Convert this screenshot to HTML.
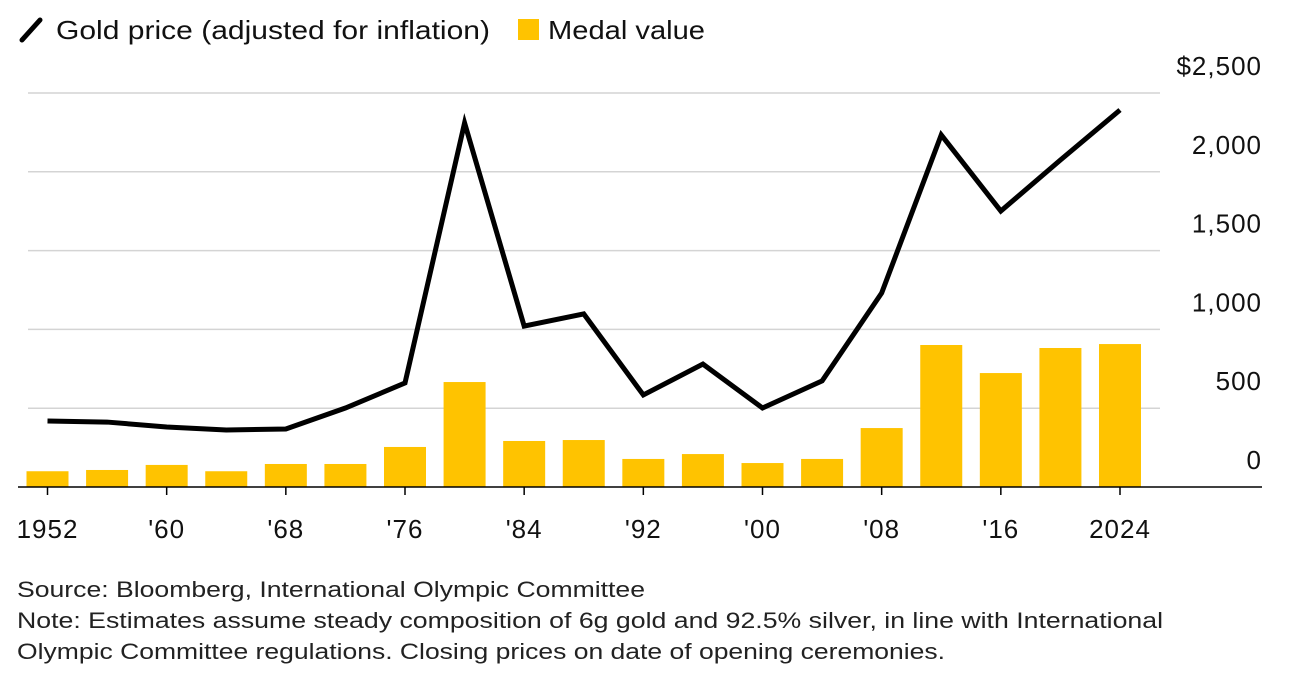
<!DOCTYPE html>
<html><head><meta charset="utf-8"><style>
body{margin:0;background:#fff;font-family:"Liberation Sans",sans-serif;color:#111}
svg text{font-family:"Liberation Sans",sans-serif}
</style></head><body>
<svg width="1292" height="685" xmlns="http://www.w3.org/2000/svg">
<g>
<line x1="22" y1="40" x2="40" y2="20" stroke="#000" stroke-width="5" stroke-linecap="round"/>
<text x="56" y="39" font-size="26" fill="#111" textLength="434" lengthAdjust="spacingAndGlyphs">Gold price (adjusted for inflation)</text>
<rect x="518" y="19" width="21" height="21" fill="#FFC300"/>
<text x="548" y="39" font-size="26" fill="#111" textLength="157" lengthAdjust="spacingAndGlyphs">Medal value</text>
</g>
<g id="grid"></g><g id="bars"></g><g id="line"></g><g id="axes"></g>
<g font-size="22" fill="#222">
<text x="17" y="597" textLength="628" lengthAdjust="spacingAndGlyphs">Source: Bloomberg, International Olympic Committee</text>
<text x="17" y="628" textLength="1146" lengthAdjust="spacingAndGlyphs">Note: Estimates assume steady composition of 6g gold and 92.5% silver, in line with International</text>
<text x="17" y="659" textLength="928" lengthAdjust="spacingAndGlyphs">Olympic Committee regulations. Closing prices on date of opening ceremonies.</text>
</g>
</svg>
<script>
const years=[1952,1956,1960,1964,1968,1972,1976,1980,1984,1988,1992,1996,2000,2004,2008,2012,2016,2020,2024];
const medalValue=[100,108,140,100,146,146,254,666,292,298,178,209,152,178,374,901,723,882,907];
const goldPrice=[419,412,381,362,368,501,660,2310,1021,1098,584,780,501,673,1231,2234,1751,2075,2392];
const yTicks=[0,500,1000,1500,2000,2500];
const yTickLabels=["0","500","1,000","1,500","2,000","$2,500"];
const xTickYears=[1952,1960,1968,1976,1984,1992,2000,2008,2016,2024];
const xTickLabels=["1952","'60","'68","'76","'84","'92","'00","'08","'16","2024"];
const NS="http://www.w3.org/2000/svg";
const x=y=>47.5+(y-1952)*(1120-47.5)/72;
const yS=v=>487-v*(487-93)/2500;
function mk(t,a,p){const e=document.createElementNS(NS,t);for(const k in a)e.setAttribute(k,a[k]);document.getElementById(p).appendChild(e);return e;}
yTicks.forEach((v,i)=>{
  if(v>0){const g=mk('line',{x1:28,x2:1160,y1:yS(v),y2:yS(v),stroke:'#d4d4d4','stroke-width':1.5},'grid');
  
  }
  const t=mk('text',{x:1262,y:yS(v)-18,'text-anchor':'end','font-size':26,'letter-spacing':'1px',fill:'#111'},'axes');
  t.textContent=yTickLabels[i];
  
  
});
years.forEach((yr,i)=>{
  const r=mk('rect',{x:x(yr)-21,y:yS(medalValue[i]),width:42,height:yS(0)-yS(medalValue[i]),fill:'#FFC300'},'bars');
  
  
});
const p=mk('polyline',{points:years.map((yr,i)=>x(yr)+','+yS(goldPrice[i])).join(' '),fill:'none',stroke:'#000','stroke-width':5,'stroke-linejoin':'miter'},'line');


const b=mk('line',{x1:18,x2:1262,y1:487,y2:487,stroke:'#000','stroke-width':1.5},'axes');


xTickYears.forEach((yr,i)=>{
  const tk=mk('line',{x1:x(yr),x2:x(yr),y1:487,y2:495,stroke:'#000','stroke-width':1.5},'axes');
  
  
  const t=mk('text',{x:x(yr),y:538,'text-anchor':'middle','font-size':26,'letter-spacing':'1px',fill:'#111'},'axes');
  t.textContent=xTickLabels[i];
  
  
});
</script>
</body></html>
